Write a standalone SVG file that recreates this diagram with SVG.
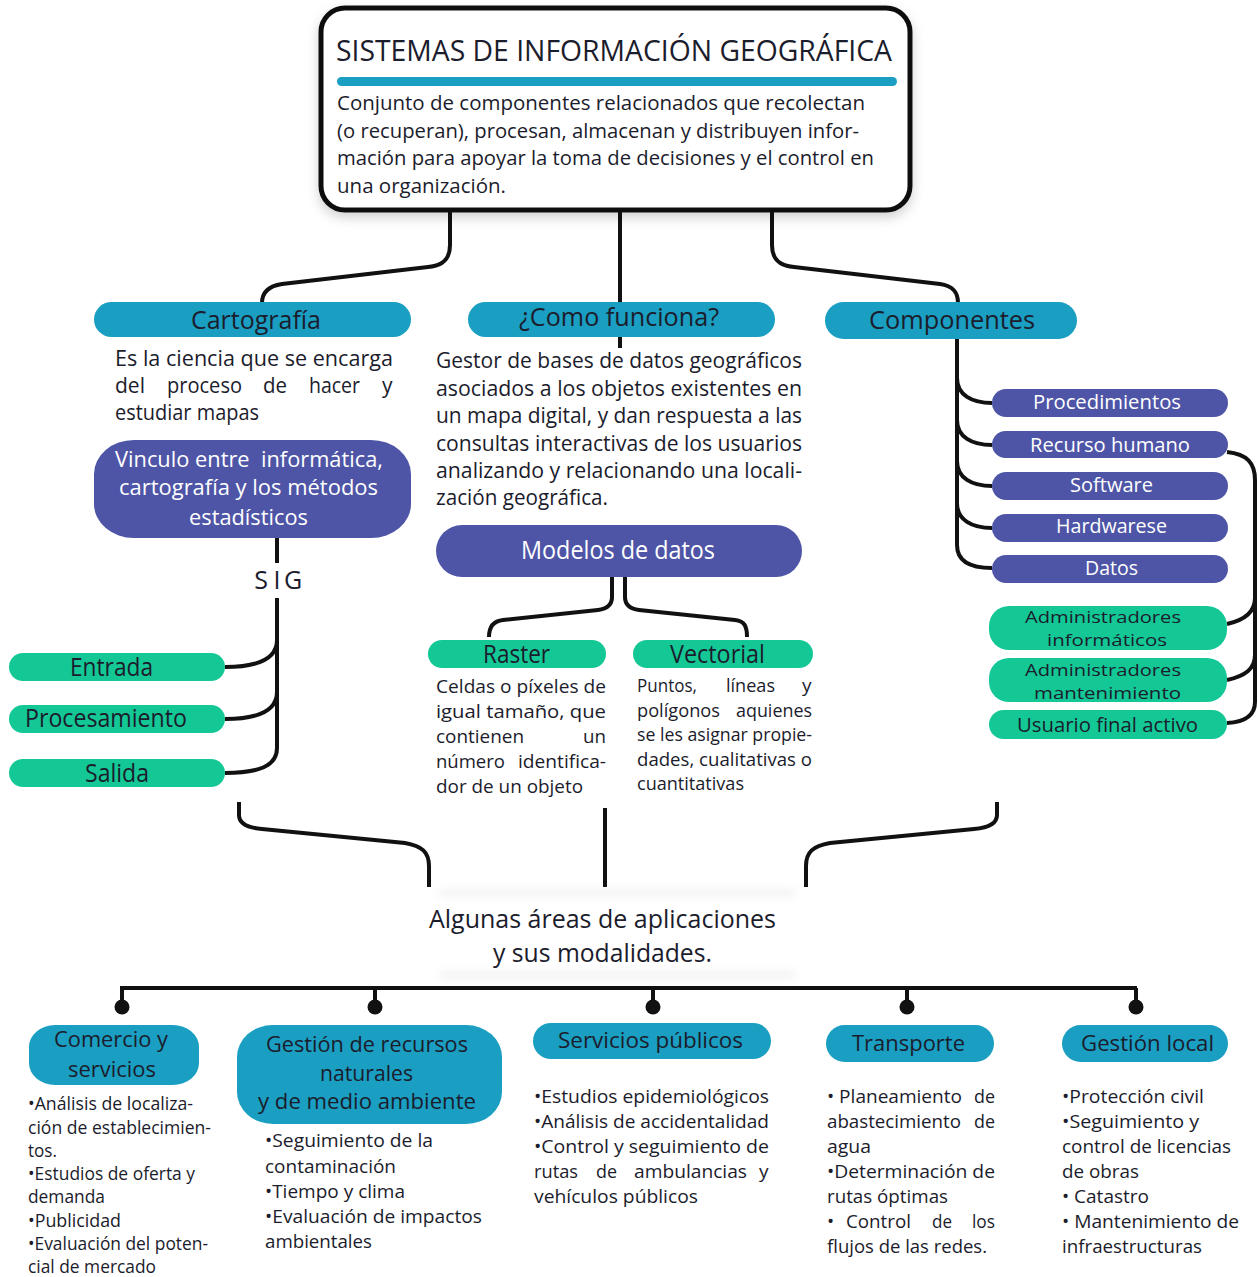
<svg xmlns="http://www.w3.org/2000/svg" width="1258" height="1277" viewBox="0 0 1258 1277">
  <defs>
    <style>
      .t { font-family: "Open Sans", "Liberation Sans", sans-serif; fill: #1b1c2c; }
      .w { fill: #ffffff; }
      .teal { fill: #1a9ec2; }
      .purple { fill: #4e55a6; }
      .green { fill: #14c896; }
      .conn { fill: none; stroke: #111111; stroke-width: 4; }
      .dot { fill: #111111; }
      .s26 { font-size: 26px; }
      .s25 { font-size: 25px; }
      .s22 { font-size: 22px; }
      .s21 { font-size: 21px; }
      .s20 { font-size: 20px; }
      .s19 { font-size: 19px; }
      .s18 { font-size: 18px; }
      .s17 { font-size: 17px; }
    </style>
    <filter id="shadow" x="-10%" y="-10%" width="120%" height="130%">
      <feDropShadow dx="0" dy="5" stdDeviation="6" flood-color="#000" flood-opacity="0.18"/>
    </filter>
    <filter id="haze" x="-20%" y="-300%" width="140%" height="700%">
      <feGaussianBlur stdDeviation="5"/>
    </filter>
  </defs>

  <rect width="1258" height="1277" fill="#ffffff"/>

  <!-- connectors -->
  <g id="connectors">
    <!-- from the main box -->
    <path class="conn" d="M450 210 V245 C450 261 441 266 428 267 L282 284 C269 286 262 292 262 303"/>
    <path class="conn" d="M620 210 V348"/>
    <path class="conn" d="M772 210 V245 C772 261 781 266 794 267 L940 284 C953 286 958 292 958 303"/>
    <!-- Vinculo / SIG -->
    <path class="conn" d="M277 538 V563"/>
    <path class="conn" d="M277 598 V748 C277 766 259 773 225 773"/>
    <path class="conn" d="M277 640 C277 659 259 667 225 667"/>
    <path class="conn" d="M277 692 C277 711 259 719 225 719"/>
    <!-- Modelos de datos -->
    <path class="conn" d="M612 577 V597 C612 606 606 609 598 610 L503 620 C493 621 489 627 489 637"/>
    <path class="conn" d="M625 577 V597 C625 606 631 609 639 610 L735 620 C745 621 747 627 747 637"/>
    <!-- Componentes -->
    <path class="conn" d="M957 338 V545 C957 562 972 568 992 568"/>
    <path class="conn" d="M957 378 C957 395 972 403 992 403"/>
    <path class="conn" d="M957 420 C957 437 972 445 992 445"/>
    <path class="conn" d="M957 461 C957 478 972 486 992 486"/>
    <path class="conn" d="M957 503 C957 520 972 528 992 528"/>
    <!-- Recurso humano -->
    <path class="conn" d="M1227 452 C1247 454 1255 463 1255 480 V702 C1255 715 1245 722 1227 723"/>
    <path class="conn" d="M1255 598 C1255 612 1245 620 1227 624"/>
    <path class="conn" d="M1255 655 C1255 669 1245 676 1227 680"/>
    <!-- towards the applications -->
    <path class="conn" d="M239 802 V815 C239 825 250 828 262 829 L405 843 C422 846 429 852 429 866 V887"/>
    <path class="conn" d="M605 808 V887"/>
    <path class="conn" d="M997 802 V815 C997 825 986 828 974 829 L830 843 C813 846 806 852 806 866 V887"/>
    <!-- application bar -->
    <path class="conn" d="M120 988 H1137"/>
    <path class="conn" d="M122 988 V1002 M375 988 V1002 M653 988 V1002 M907 988 V1002 M1136 988 V1002"/>
    <circle class="dot" cx="122" cy="1007" r="7.5"/>
    <circle class="dot" cx="375" cy="1007" r="7.5"/>
    <circle class="dot" cx="653" cy="1007" r="7.5"/>
    <circle class="dot" cx="907" cy="1007" r="7.5"/>
    <circle class="dot" cx="1136" cy="1007" r="7.5"/>
  </g>

  <!-- main box -->
  <g id="sig">
    <rect x="321" y="8" width="589" height="202" rx="24" fill="#ffffff" stroke="#111111" stroke-width="5" filter="url(#shadow)"/>
    <text class="t" x="336" y="61" font-size="29" textLength="556" lengthAdjust="spacingAndGlyphs">SISTEMAS DE INFORMACIÓN GEOGRÁFICA</text>
    <rect class="teal" x="337" y="77" width="560" height="9" rx="4.5"/>
    <text class="t s20" x="337" y="110" textLength="528" lengthAdjust="spacingAndGlyphs">Conjunto de componentes relacionados que recolectan</text>
    <text class="t s20" x="337" y="138" textLength="522" lengthAdjust="spacingAndGlyphs">(o recuperan), procesan, almacenan y distribuyen infor-</text>
    <text class="t s20" x="337" y="165" textLength="537" lengthAdjust="spacingAndGlyphs">mación para apoyar la toma de decisiones y el control en</text>
    <text class="t s20" x="337" y="193" textLength="169" lengthAdjust="spacingAndGlyphs">una organización.</text>
  </g>

  <!-- Cartografía -->
  <g id="cartografia">
    <rect class="teal" x="94" y="302" width="317" height="35" rx="17.5"/>
    <text class="t s26" x="191" y="329" textLength="130" lengthAdjust="spacingAndGlyphs">Cartografía</text>
    <text class="t s21" x="115" y="366" textLength="278" lengthAdjust="spacingAndGlyphs">Es la ciencia que se encarga</text>
    <text class="t s21" x="115" y="393" textLength="30" lengthAdjust="spacingAndGlyphs">del</text>
    <text class="t s21" x="167" y="393" textLength="75" lengthAdjust="spacingAndGlyphs">proceso</text>
    <text class="t s21" x="263" y="393" textLength="24" lengthAdjust="spacingAndGlyphs">de</text>
    <text class="t s21" x="309" y="393" textLength="51" lengthAdjust="spacingAndGlyphs">hacer</text>
    <text class="t s21" x="382" y="393">y</text>
    <text class="t s21" x="115" y="420" textLength="144" lengthAdjust="spacingAndGlyphs">estudiar mapas</text>
  </g>

  <g id="vinculo">
    <rect class="purple" x="94" y="440" width="317" height="98" rx="40" ry="34"/>
    <text class="t w s22" x="115" y="467" textLength="268" lengthAdjust="spacingAndGlyphs">Vinculo entre&#160; informática,</text>
    <text class="t w s22" x="119" y="495" textLength="259" lengthAdjust="spacingAndGlyphs">cartografía y los métodos</text>
    <text class="t w s22" x="189" y="525" textLength="119" lengthAdjust="spacingAndGlyphs">estadísticos</text>
  </g>

  <g id="sig-label">
    <text class="t s25" x="261" y="589" text-anchor="middle">S</text>
    <text class="t s25" x="277" y="589" text-anchor="middle">I</text>
    <text class="t s25" x="293" y="589" text-anchor="middle">G</text>
  </g>

  <g id="entrada">
    <rect class="green" x="9" y="653" width="216" height="28" rx="14"/>
    <text class="t s25" x="70" y="676" textLength="83" lengthAdjust="spacingAndGlyphs">Entrada</text>
  </g>
  <g id="procesamiento">
    <rect class="green" x="9" y="705" width="216" height="28" rx="14"/>
    <text class="t s25" x="25" y="727" textLength="162" lengthAdjust="spacingAndGlyphs">Procesamiento</text>
  </g>
  <g id="salida">
    <rect class="green" x="9" y="759" width="216" height="28" rx="14"/>
    <text class="t s25" x="85" y="782" textLength="64" lengthAdjust="spacingAndGlyphs">Salida</text>
  </g>

  <!-- ¿Como funciona? -->
  <g id="como-funciona">
    <rect class="teal" x="468" y="302" width="307" height="35" rx="17.5"/>
    <text class="t s26" x="519" y="326" textLength="200" lengthAdjust="spacingAndGlyphs">¿Como funciona?</text>
    <text class="t s21" x="436" y="368" textLength="366" lengthAdjust="spacingAndGlyphs">Gestor de bases de datos geográficos</text>
    <text class="t s21" x="436" y="396" textLength="366" lengthAdjust="spacingAndGlyphs">asociados a los objetos existentes en</text>
    <text class="t s21" x="436" y="423" textLength="366" lengthAdjust="spacingAndGlyphs">un mapa digital, y dan respuesta a las</text>
    <text class="t s21" x="436" y="451" textLength="366" lengthAdjust="spacingAndGlyphs">consultas interactivas de los usuarios</text>
    <text class="t s21" x="436" y="478" textLength="366" lengthAdjust="spacingAndGlyphs">analizando y relacionando una locali-</text>
    <text class="t s21" x="436" y="505" textLength="172" lengthAdjust="spacingAndGlyphs">zación geográfica.</text>
  </g>

  <g id="modelos">
    <rect class="purple" x="436" y="525" width="366" height="52" rx="26"/>
    <text class="t w s25" x="521" y="559" textLength="194" lengthAdjust="spacingAndGlyphs">Modelos de datos</text>
  </g>

  <g id="raster">
    <rect class="green" x="428" y="640" width="178" height="28" rx="14"/>
    <text class="t s25" x="483" y="663" textLength="67" lengthAdjust="spacingAndGlyphs">Raster</text>
    <text class="t s19" x="436" y="693" textLength="170" lengthAdjust="spacingAndGlyphs">Celdas o píxeles de</text>
    <text class="t s19" x="436" y="718" textLength="170" lengthAdjust="spacingAndGlyphs">igual tamaño, que</text>
    <text class="t s19" x="436" y="743" textLength="88" lengthAdjust="spacingAndGlyphs">contienen</text>
    <text class="t s19" x="583" y="743" textLength="23" lengthAdjust="spacingAndGlyphs">un</text>
    <text class="t s19" x="436" y="768" textLength="69" lengthAdjust="spacingAndGlyphs">número</text>
    <text class="t s19" x="518" y="768" textLength="88" lengthAdjust="spacingAndGlyphs">identifica-</text>
    <text class="t s19" x="436" y="793" textLength="147" lengthAdjust="spacingAndGlyphs">dor de un objeto</text>
  </g>

  <g id="vectorial">
    <rect class="green" x="633" y="640" width="180" height="28" rx="14"/>
    <text class="t s25" x="670" y="663" textLength="95" lengthAdjust="spacingAndGlyphs">Vectorial</text>
    <text class="t s19" x="637" y="692" textLength="60" lengthAdjust="spacingAndGlyphs">Puntos,</text>
    <text class="t s19" x="726" y="692" textLength="49" lengthAdjust="spacingAndGlyphs">líneas</text>
    <text class="t s19" x="802" y="692">y</text>
    <text class="t s19" x="637" y="716.5" textLength="83" lengthAdjust="spacingAndGlyphs">polígonos</text>
    <text class="t s19" x="736" y="716.5" textLength="76" lengthAdjust="spacingAndGlyphs">aquienes</text>
    <text class="t s19" x="637" y="741" textLength="175" lengthAdjust="spacingAndGlyphs">se les asignar propie-</text>
    <text class="t s19" x="637" y="765.5" textLength="175" lengthAdjust="spacingAndGlyphs">dades, cualitativas o</text>
    <text class="t s19" x="637" y="790" textLength="107" lengthAdjust="spacingAndGlyphs">cuantitativas</text>
  </g>

  <!-- Componentes -->
  <g id="componentes">
    <rect class="teal" x="825" y="302" width="252" height="37" rx="18.5"/>
    <text class="t s26" x="869" y="329" textLength="166" lengthAdjust="spacingAndGlyphs">Componentes</text>
  </g>
  <g id="procedimientos">
    <rect class="purple" x="992" y="389" width="236" height="28" rx="14"/>
    <text class="t w s20" x="1033" y="409" textLength="148" lengthAdjust="spacingAndGlyphs">Procedimientos</text>
  </g>
  <g id="recurso-humano">
    <rect class="purple" x="992" y="431" width="236" height="27" rx="13.5"/>
    <text class="t w s20" x="1030" y="452" textLength="160" lengthAdjust="spacingAndGlyphs">Recurso humano</text>
  </g>
  <g id="software">
    <rect class="purple" x="992" y="472" width="236" height="28" rx="14"/>
    <text class="t w s20" x="1070" y="492" textLength="83" lengthAdjust="spacingAndGlyphs">Software</text>
  </g>
  <g id="hardwarese">
    <rect class="purple" x="992" y="514" width="236" height="28" rx="14"/>
    <text class="t w s20" x="1056" y="533" textLength="111" lengthAdjust="spacingAndGlyphs">Hardwarese</text>
  </g>
  <g id="datos">
    <rect class="purple" x="992" y="555" width="236" height="28" rx="14"/>
    <text class="t w s20" x="1085" y="575" textLength="53" lengthAdjust="spacingAndGlyphs">Datos</text>
  </g>
  <g id="admin-informaticos">
    <rect class="green" x="989" y="606" width="238" height="44" rx="20"/>
    <text class="t s17" x="1025" y="623" textLength="156" lengthAdjust="spacingAndGlyphs">Administradores</text>
    <text class="t s17" x="1047" y="646" textLength="120" lengthAdjust="spacingAndGlyphs">informáticos</text>
  </g>
  <g id="admin-mantenimiento">
    <rect class="green" x="989" y="658" width="238" height="44" rx="20"/>
    <text class="t s17" x="1025" y="676" textLength="156" lengthAdjust="spacingAndGlyphs">Administradores</text>
    <text class="t s17" x="1034" y="699" textLength="147" lengthAdjust="spacingAndGlyphs">mantenimiento</text>
  </g>
  <g id="usuario-final">
    <rect class="green" x="989" y="710" width="238" height="29" rx="14.5"/>
    <text class="t s20" x="1017" y="732" textLength="181" lengthAdjust="spacingAndGlyphs">Usuario final activo</text>
  </g>

  <!-- applications -->
  <g id="aplicaciones">
    <rect x="440" y="891" width="355" height="4" fill="#a0a0a0" opacity="0.25" filter="url(#haze)"/>
    <rect x="440" y="973" width="355" height="4" fill="#a0a0a0" opacity="0.25" filter="url(#haze)"/>
    <text class="t s26" x="429" y="928" textLength="347" lengthAdjust="spacingAndGlyphs">Algunas áreas de aplicaciones</text>
    <text class="t s26" x="493" y="962" textLength="219" lengthAdjust="spacingAndGlyphs">y sus modalidades.</text>
  </g>

  <g id="comercio">
    <rect class="teal" x="29" y="1025" width="170" height="60" rx="26" ry="22"/>
    <text class="t s22" x="54" y="1047" textLength="114" lengthAdjust="spacingAndGlyphs">Comercio y</text>
    <text class="t s22" x="68" y="1077" textLength="88" lengthAdjust="spacingAndGlyphs">servicios</text>
    <text class="t s18" x="28" y="1110" textLength="165" lengthAdjust="spacingAndGlyphs">•Análisis de localiza-</text>
    <text class="t s18" x="28" y="1134" textLength="183" lengthAdjust="spacingAndGlyphs">ción de establecimien-</text>
    <text class="t s18" x="28" y="1157" textLength="29" lengthAdjust="spacingAndGlyphs">tos.</text>
    <text class="t s18" x="28" y="1180" textLength="167" lengthAdjust="spacingAndGlyphs">•Estudios de oferta y</text>
    <text class="t s18" x="28" y="1203" textLength="77" lengthAdjust="spacingAndGlyphs">demanda</text>
    <text class="t s18" x="28" y="1227" textLength="93" lengthAdjust="spacingAndGlyphs">•Publicidad</text>
    <text class="t s18" x="28" y="1250" textLength="180" lengthAdjust="spacingAndGlyphs">•Evaluación del poten-</text>
    <text class="t s18" x="28" y="1273" textLength="128" lengthAdjust="spacingAndGlyphs">cial de mercado</text>
  </g>

  <g id="recursos-naturales">
    <rect class="teal" x="237" y="1025" width="265" height="99" rx="36" ry="32"/>
    <text class="t s22" x="266" y="1052" textLength="202" lengthAdjust="spacingAndGlyphs">Gestión de recursos</text>
    <text class="t s22" x="320" y="1081" textLength="93" lengthAdjust="spacingAndGlyphs">naturales</text>
    <text class="t s22" x="258" y="1109" textLength="218" lengthAdjust="spacingAndGlyphs">y de medio ambiente</text>
    <text class="t s19" x="265" y="1147" textLength="168" lengthAdjust="spacingAndGlyphs">•Seguimiento de la</text>
    <text class="t s19" x="265" y="1173" textLength="131" lengthAdjust="spacingAndGlyphs">contaminación</text>
    <text class="t s19" x="265" y="1198" textLength="140" lengthAdjust="spacingAndGlyphs">•Tiempo y clima</text>
    <text class="t s19" x="265" y="1223" textLength="217" lengthAdjust="spacingAndGlyphs">•Evaluación de impactos</text>
    <text class="t s19" x="265" y="1248" textLength="107" lengthAdjust="spacingAndGlyphs">ambientales</text>
  </g>

  <g id="servicios-publicos">
    <rect class="teal" x="533" y="1023" width="238" height="36" rx="18"/>
    <text class="t s22" x="558" y="1048" textLength="185" lengthAdjust="spacingAndGlyphs">Servicios públicos</text>
    <text class="t s19" x="534" y="1103" textLength="235" lengthAdjust="spacingAndGlyphs">•Estudios epidemiológicos</text>
    <text class="t s19" x="534" y="1128" textLength="235" lengthAdjust="spacingAndGlyphs">•Análisis de accidentalidad</text>
    <text class="t s19" x="534" y="1153" textLength="235" lengthAdjust="spacingAndGlyphs">•Control y seguimiento de</text>
    <text class="t s19" x="534" y="1178" textLength="44" lengthAdjust="spacingAndGlyphs">rutas</text>
    <text class="t s19" x="596" y="1178" textLength="21" lengthAdjust="spacingAndGlyphs">de</text>
    <text class="t s19" x="634" y="1178" textLength="113" lengthAdjust="spacingAndGlyphs">ambulancias</text>
    <text class="t s19" x="759" y="1178">y</text>
    <text class="t s19" x="534" y="1203" textLength="164" lengthAdjust="spacingAndGlyphs">vehículos públicos</text>
  </g>

  <g id="transporte">
    <rect class="teal" x="826" y="1025" width="168" height="37" rx="18.5"/>
    <text class="t s22" x="852" y="1051" textLength="113" lengthAdjust="spacingAndGlyphs">Transporte</text>
    <text class="t s19" x="827" y="1103" textLength="135" lengthAdjust="spacingAndGlyphs">• Planeamiento</text>
    <text class="t s19" x="974" y="1103" textLength="21" lengthAdjust="spacingAndGlyphs">de</text>
    <text class="t s19" x="827" y="1128" textLength="134" lengthAdjust="spacingAndGlyphs">abastecimiento</text>
    <text class="t s19" x="974" y="1128" textLength="21" lengthAdjust="spacingAndGlyphs">de</text>
    <text class="t s19" x="827" y="1153" textLength="44" lengthAdjust="spacingAndGlyphs">agua</text>
    <text class="t s19" x="827" y="1178" textLength="168" lengthAdjust="spacingAndGlyphs">•Determinación de</text>
    <text class="t s19" x="827" y="1203" textLength="121" lengthAdjust="spacingAndGlyphs">rutas óptimas</text>
    <text class="t s19" x="827" y="1228">•</text>
    <text class="t s19" x="846" y="1228" textLength="65" lengthAdjust="spacingAndGlyphs">Control</text>
    <text class="t s19" x="932" y="1228" textLength="20" lengthAdjust="spacingAndGlyphs">de</text>
    <text class="t s19" x="972" y="1228" textLength="23" lengthAdjust="spacingAndGlyphs">los</text>
    <text class="t s19" x="827" y="1253" textLength="160" lengthAdjust="spacingAndGlyphs">flujos de las redes.</text>
  </g>

  <g id="gestion-local">
    <rect class="teal" x="1062" y="1025" width="166" height="37" rx="18.5"/>
    <text class="t s22" x="1081" y="1051" textLength="133" lengthAdjust="spacingAndGlyphs">Gestión local</text>
    <text class="t s19" x="1062" y="1103" textLength="142" lengthAdjust="spacingAndGlyphs">•Protección civil</text>
    <text class="t s19" x="1062" y="1128" textLength="137" lengthAdjust="spacingAndGlyphs">•Seguimiento y</text>
    <text class="t s19" x="1062" y="1153" textLength="169" lengthAdjust="spacingAndGlyphs">control de licencias</text>
    <text class="t s19" x="1062" y="1178" textLength="77" lengthAdjust="spacingAndGlyphs">de obras</text>
    <text class="t s19" x="1062" y="1203" textLength="87" lengthAdjust="spacingAndGlyphs">• Catastro</text>
    <text class="t s19" x="1062" y="1228" textLength="177" lengthAdjust="spacingAndGlyphs">• Mantenimiento de</text>
    <text class="t s19" x="1062" y="1253" textLength="140" lengthAdjust="spacingAndGlyphs">infraestructuras</text>
  </g>
</svg>
